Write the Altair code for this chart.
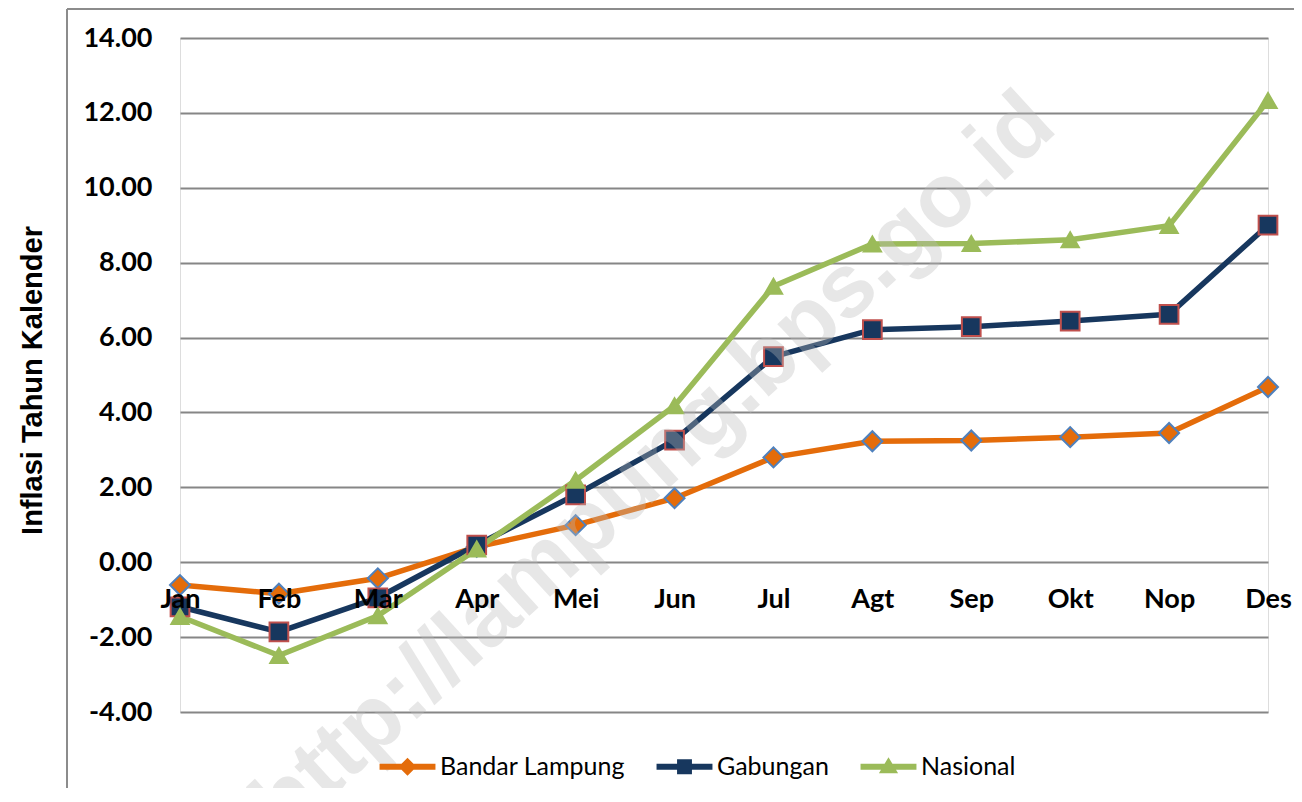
import altair as alt
import pandas as pd

MONTHS = ["Jan", "Feb", "Mar", "Apr", "Mei", "Jun", "Jul", "Agt", "Sep", "Okt", "Nop", "Des"]
SERIES = ["Bandar Lampung", "Gabungan", "Nasional"]
BANDAR = [-0.61, -0.84, -0.43, 0.41, 0.99, 1.71, 2.80, 3.23, 3.25, 3.34, 3.45, 4.68]
GABUNGAN = [-1.19, -1.86, -0.95, 0.46, 1.80, 3.26, 5.49, 6.21, 6.29, 6.44, 6.62, 9.00]
NASIONAL = [-1.45, -2.49, -1.43, 0.35, 2.19, 4.18, 7.37, 8.50, 8.51, 8.61, 8.99, 12.33]
Y_TICKS = [-4, -2, 0, 2, 4, 6, 8, 10, 12, 14]
Y_TITLE = "Inflasi Tahun Kalender"
WATERMARK = ["http://lampung.bps.go.id"]

LINE_COLORS = ["#E46C0A", "#17375E", "#9BBB59"]
MARKER_STROKES = ["#4F81BD", "#C0504D", "#9BBB59"]
MARKER_SHAPES = ["diamond", "square", "triangle-up"]
MARKER_SIZES = [400, 300, 420]
LEGEND_PATHS = [
    "M-2.33,-0.24H2.33V0.24H-2.33Z M0,-0.75L0.75,0L0,0.75L-0.75,0Z",
    "M-2.33,-0.24H2.33V0.24H-2.33Z M-0.62,-0.62H0.62V0.62H-0.62Z",
    "M-2.33,-0.24H2.33V0.24H-2.33Z M0,-0.8L0.8,0.55H-0.8Z",
]

rows = []
for name, vals in zip(SERIES, [BANDAR, GABUNGAN, NASIONAL]):
    for m, v in zip(MONTHS, vals):
        rows.append({"series": name, "month": m, "value": v})
df = pd.DataFrame(rows)

W, H = 1088, 674
FONT = "Lato"

x_enc = alt.X(
    "month:N", sort=MONTHS,
    scale=alt.Scale(type="point", padding=0),
    axis=alt.Axis(title=None, labelFont=FONT, labelFontSize=27, labelFontWeight="bold",
                  labelColor="black", ticks=False, domain=False, grid=False,
                  offset=-150, labelPadding=24, labelAngle=0, zindex=1),
)
y_enc = alt.Y(
    "value:Q",
    scale=alt.Scale(domain=[-4, 14], nice=False, zero=False),
    axis=alt.Axis(values=Y_TICKS, title=Y_TITLE,
                  labelExpr="(datum.value < 0 ? '-' : '') + format(abs(datum.value), '.2f')",
                  labelFont=FONT, labelFontSize=27, labelFontWeight="bold", labelColor="black",
                  ticks=False, domain=False, gridColor="#868686", gridWidth=2,
                  labelPadding=28,
                  titleFont="Liberation Sans", titleFontSize=29, titleFontWeight="bold",
                  titleColor="black", titleX=-148, titleY=H / 2 + 5, titleAngle=270,
                  titleAlign="center", titleBaseline="middle"),
)

base = alt.Chart(df).encode(x=x_enc, y=y_enc)

lines = base.mark_line(strokeWidth=5.5, strokeJoin="round", strokeCap="round").encode(
    color=alt.Color("series:N", scale=alt.Scale(domain=SERIES, range=LINE_COLORS), legend=None)
)

points = base.mark_point(filled=True, opacity=1, strokeWidth=2).encode(
    shape=alt.Shape("series:N", scale=alt.Scale(domain=SERIES, range=MARKER_SHAPES), legend=None),
    fill=alt.Fill("series:N", scale=alt.Scale(domain=SERIES, range=LINE_COLORS), legend=None),
    stroke=alt.Stroke("series:N", scale=alt.Scale(domain=SERIES, range=MARKER_STROKES), legend=None),
    size=alt.Size("series:N", scale=alt.Scale(domain=SERIES, range=MARKER_SIZES), legend=None),
)

leg = alt.Legend(title=None, orient="none", legendX=215, legendY=716, direction="horizontal",
                 columns=3, columnPadding=31, symbolSize=576, labelOffset=20,
                 labelFont=FONT, labelFontSize=25, labelColor="black", labelLimit=400,
                 symbolStrokeWidth=0, padding=0)

legend_layer = alt.Chart(df).transform_filter("false").mark_point(filled=True, opacity=1).encode(
    shape=alt.Shape("series:N", scale=alt.Scale(domain=SERIES, range=LEGEND_PATHS), legend=leg),
    color=alt.Color("series:N", scale=alt.Scale(domain=SERIES, range=LINE_COLORS), legend=leg),
)

wm = alt.Chart(pd.DataFrame({"t": WATERMARK})).mark_text(
    angle=317.5, fontSize=90, font="Liberation Sans", fontWeight="bold",
    color="#bbbbbb", opacity=0.35, align="center", baseline="middle"
).encode(x=alt.value(474), y=alt.value(427), text="t:N")

frame_df = pd.DataFrame({"k": [0]})
frame_left = alt.Chart(frame_df).mark_rule(color="#8c8c8c", strokeWidth=2).encode(
    x=alt.value(-113), y=alt.value(-29), y2=alt.value(800))
frame_top = alt.Chart(frame_df).mark_rule(color="#8c8c8c", strokeWidth=2).encode(
    x=alt.value(-113), x2=alt.value(1200), y=alt.value(-29))

chart = alt.layer(frame_left, frame_top, lines, points, wm, legend_layer).resolve_scale(
    color="independent", shape="independent", fill="independent",
    stroke="independent", size="independent"
).properties(
    width=W, height=H,
    autosize=alt.AutoSizeParams(type="none"),
    padding={"left": 172, "top": 30, "right": 26, "bottom": 76},
).configure_view(stroke=None).configure(background="white")

chart.save("out.html", embed_options={"renderer": "svg", "actions": False})
